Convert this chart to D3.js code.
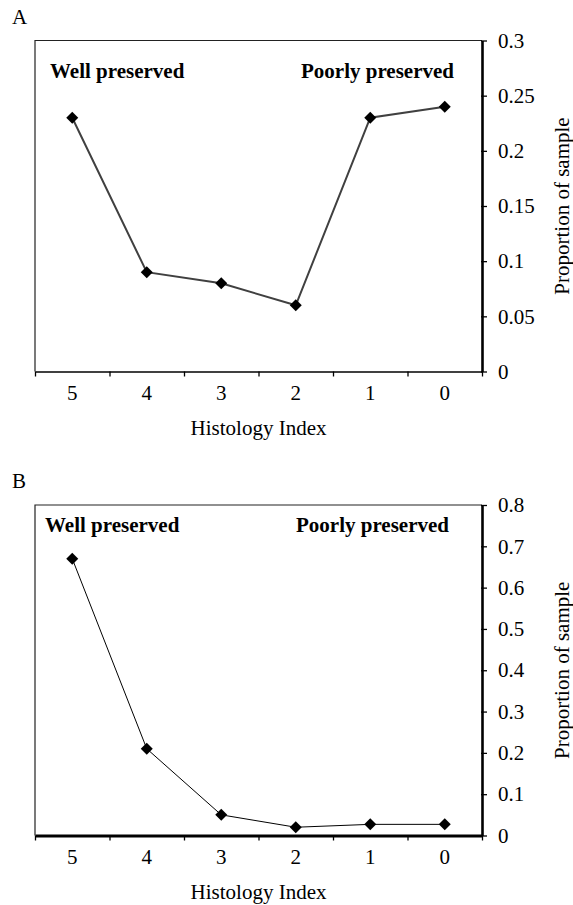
<!DOCTYPE html>
<html>
<head>
<meta charset="utf-8">
<script src="https://cdn.jsdelivr.net/npm/d3@7/dist/d3.min.js"></script>
<style>
  body { margin: 0; background: #fff; }
  svg text { font-family: "Liberation Serif", Tinos, "Times New Roman", Times, serif; fill: #000; }
</style>
</head>
<body>
<div id="chart"></div>
<script>
// data
var categories = ["5", "4", "3", "2", "1", "0"];
var valuesA = [0.23, 0.09, 0.08, 0.06, 0.23, 0.24];
var valuesB = [0.67, 0.21, 0.05, 0.02, 0.027, 0.027];
var ticksA = [0, 0.05, 0.1, 0.15, 0.2, 0.25, 0.3];
var ticksB = [0, 0.1, 0.2, 0.3, 0.4, 0.5, 0.6, 0.7, 0.8];

var W = 573, H = 905;
var fontSize = 21;
var serif = "'Liberation Serif', Tinos, 'Times New Roman', Times, serif";

var svg = d3.select("#chart").append("svg")
    .attr("width", W)
    .attr("height", H)
    .attr("font-family", serif);

svg.append("rect").attr("width", W).attr("height", H).attr("fill", "#fff");

function drawPanel(opt) {
    var left = 35, right = 482, top = opt.top, bottom = opt.bottom;

    var x = d3.scaleBand().domain(categories).range([left, right]);
    var xb = d3.scaleLinear().domain([0, categories.length]).range([left, right]);
    var y = d3.scaleLinear().domain([0, opt.max]).range([bottom, top]);

    var g = svg.append("g");

    // panel letter
    g.append("text")
        .attr("x", 12)
        .attr("y", top - 17)
        .attr("font-family", serif)
        .style("font-size", fontSize + "px")
        .text(opt.label);

    // thin frame (top + left)
    g.append("path")
        .attr("d", "M" + left + "," + bottom + "V" + top + "H" + right)
        .attr("fill", "none")
        .attr("stroke", "#222")
        .attr("stroke-width", 1.2);

    // x ticks at category boundaries
    var xTickAxis = g.append("g")
        .attr("transform", "translate(0," + bottom + ")")
        .call(d3.axisBottom(xb).tickValues(d3.range(categories.length + 1))
            .tickFormat("").tickSize(5).tickSizeOuter(0));
    xTickAxis.select(".domain").attr("stroke", "#000").attr("stroke-width", opt.xAxisWidth);
    xTickAxis.selectAll(".tick line").attr("stroke", "#000").attr("stroke-width", 1.3);

    // x labels at band centres
    var xLab = g.append("g")
        .attr("transform", "translate(0," + bottom + ")")
        .call(d3.axisBottom(x).tickSize(0).tickPadding(14));
    xLab.attr("font-family", serif).attr("font-size", fontSize);
    xLab.select(".domain").remove();

    // right y axis
    var yAx = g.append("g")
        .attr("transform", "translate(" + right + ",0)")
        .call(d3.axisRight(y).tickValues(opt.ticks).tickSize(5).tickSizeOuter(0).tickPadding(11)
            .tickFormat(function(d) { return String(+d.toFixed(2)); }));
    yAx.attr("font-family", serif).attr("font-size", fontSize);
    yAx.select(".domain").attr("stroke", "#000").attr("stroke-width", 2.6);
    yAx.selectAll(".tick line").attr("stroke", "#000").attr("stroke-width", 1.3)
        .attr("x1", -1);

    // axis titles
    g.append("text")
        .attr("text-anchor", "middle")
        .attr("x", (left + right) / 2)
        .attr("y", bottom + opt.xTitleDy)
        .attr("font-family", serif)
        .style("font-size", fontSize + "px")
        .text("Histology Index");

    g.append("text")
        .attr("text-anchor", "middle")
        .attr("transform", "translate(569," + ((top + bottom) / 2) + ") rotate(-90)")
        .attr("font-family", serif)
        .style("font-size", fontSize + "px")
        .text("Proportion of sample");

    // annotations
    g.append("text")
        .attr("x", left + opt.wellDx)
        .attr("y", top + opt.noteDy)
        .attr("font-family", serif)
        .style("font-size", fontSize + "px")
        .style("font-weight", "bold")
        .text("Well preserved");
    g.append("text")
        .attr("text-anchor", "end")
        .attr("x", right - opt.poorDx)
        .attr("y", top + opt.noteDy)
        .attr("font-family", serif)
        .style("font-size", fontSize + "px")
        .style("font-weight", "bold")
        .text("Poorly preserved");

    // series
    var pts = categories.map(function(c, i) { return { cat: c, v: opt.values[i] }; });
    var line = d3.line()
        .x(function(d) { return x(d.cat) + x.bandwidth() / 2; })
        .y(function(d) { return y(d.v); });

    g.append("path")
        .datum(pts)
        .attr("d", line)
        .attr("fill", "none")
        .attr("stroke", opt.lineColor)
        .attr("stroke-width", opt.lineWidth);

    g.selectAll(".marker")
        .data(pts)
        .enter().append("path")
        .attr("class", "marker")
        .attr("d", d3.symbol(d3.symbolSquare, 72))
        .attr("transform", function(d) {
            return "translate(" + (x(d.cat) + x.bandwidth() / 2) + "," + y(d.v) + ") rotate(45)";
        })
        .attr("fill", "#000");
}

drawPanel({
    label: "A", top: 40.5, bottom: 371.5, max: 0.3, ticks: ticksA, values: valuesA,
    xAxisWidth: 1.7, xTitleDy: 63, noteDy: 37, wellDx: 15, poorDx: 28,
    lineColor: "#404040", lineWidth: 2
});

drawPanel({
    label: "B", top: 505, bottom: 835.5, max: 0.8, ticks: ticksB, values: valuesB,
    xAxisWidth: 3, xTitleDy: 63.5, noteDy: 27, wellDx: 10, poorDx: 33,
    lineColor: "#000", lineWidth: 1
});
</script>
</body>
</html>
